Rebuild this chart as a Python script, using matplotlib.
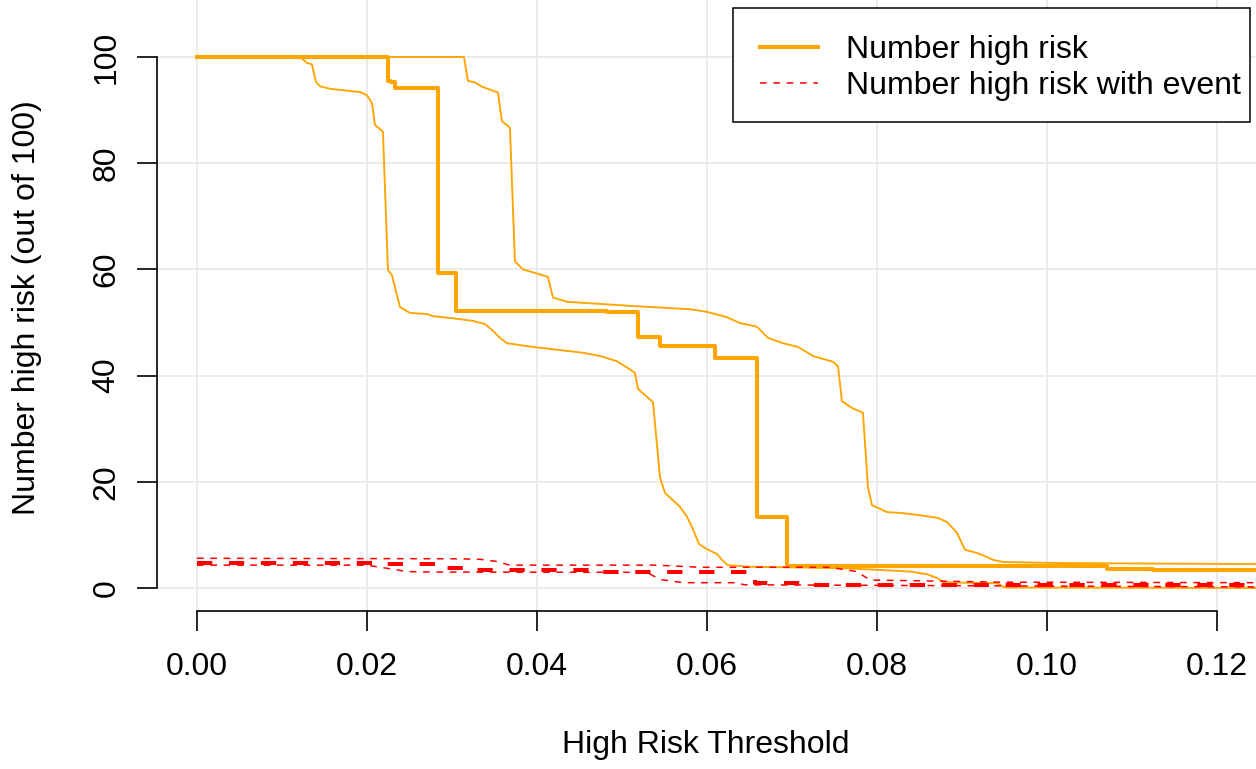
import numpy as np
import matplotlib
matplotlib.use("Agg")
import matplotlib.pyplot as plt
from matplotlib.lines import Line2D
from matplotlib.patches import Rectangle

plt.rcParams["font.family"] = ["Liberation Sans", "DejaVu Sans"]
plt.rcParams["lines.scale_dashes"] = False

# Median number high risk (step curve)
mid_thr = [0, 0.02247, 0.02282, 0.02329, 0.02388, 0.02835, 0.03047, 0.04824,
           0.05188, 0.05447, 0.06094, 0.06588, 0.06941, 0.10706, 0.11247, 0.125]
mid_n = [100, 95.5, 95.2, 94.1, 94.1, 59.3, 52.2, 51.9,
         47.3, 45.6, 43.3, 13.4, 4.2, 3.6, 3.4, 3.4]

# Upper bound, number high risk
hi_thr = [0, 0.03141, 0.03188, 0.03271, 0.03353, 0.03541, 0.03588, 0.03682,
          0.03741, 0.03835, 0.04129, 0.04188, 0.04353, 0.05129, 0.05800,
          0.06000, 0.06235, 0.06388, 0.06588, 0.06718, 0.06894, 0.07071,
          0.07247, 0.07482, 0.07541, 0.07588, 0.07706, 0.07835, 0.07894,
          0.07941, 0.08118, 0.08306, 0.08506, 0.08718, 0.08824, 0.08941,
          0.09035, 0.09176, 0.09271, 0.09365, 0.09482, 0.10153, 0.125]
hi_n = [100, 100, 95.5, 95.2, 94.4, 93.3, 87.9, 86.7,
        61.5, 60.0, 58.6, 54.7, 53.9, 53.1, 52.5,
        52.0, 51.0, 49.9, 49.2, 47.1, 46.1, 45.4,
        43.7, 42.6, 41.8, 35.2, 33.9, 33.0, 19.0,
        15.6, 14.3, 14.1, 13.7, 13.2, 12.4, 10.4,
        7.2, 6.6, 6.0, 5.3, 4.9, 4.7, 4.5]

# Lower bound, number high risk
lo_thr = [0, 0.01212, 0.01294, 0.01353, 0.01400, 0.01447, 0.01565, 0.01918,
          0.02000, 0.02059, 0.02094, 0.02153, 0.02188, 0.02247, 0.02294,
          0.02388, 0.02506, 0.02706, 0.02776, 0.03059, 0.03247, 0.03388,
          0.03471, 0.03565, 0.03647, 0.03953, 0.04541, 0.04741, 0.04941,
          0.05071, 0.05153, 0.05188, 0.05294, 0.05365, 0.05447, 0.05506,
          0.05682, 0.05765, 0.05824, 0.05906, 0.05988, 0.06118, 0.06176,
          0.06247, 0.06506, 0.06976, 0.07647, 0.08035, 0.08388, 0.08588,
          0.08706, 0.08776, 0.09035, 0.09412, 0.09506, 0.125]
lo_n = [100, 100, 98.9, 98.6, 95.3, 94.5, 94.0, 93.4,
        92.8, 91.3, 87.2, 86.4, 85.9, 59.9, 58.9,
        52.9, 51.8, 51.6, 51.2, 50.7, 50.3, 49.7,
        48.6, 47.1, 46.1, 45.4, 44.3, 43.7, 42.7,
        41.4, 40.5, 37.5, 36.0, 35.0, 20.9, 17.9,
        15.3, 13.4, 11.5, 8.3, 7.4, 6.4, 5.3,
        4.3, 4.0, 3.9, 3.7, 3.4, 3.1, 2.6,
        1.9, 1.1, 1.0, 0.9, 0.1, 0.0]

# Number high risk with event
ev_mid_thr = [0, 0.0209, 0.0294, 0.0327, 0.0474, 0.0656, 0.0709, 0.125]
ev_mid_n = [4.8, 4.5, 3.7, 3.4, 3.1, 1.0, 0.6, 0.6]

ev_hi_thr = [0, 0.0309, 0.0333, 0.0353, 0.0368, 0.0541, 0.0592, 0.0745,
             0.0776, 0.0792, 0.0874, 0.0945, 0.125]
ev_hi_n = [5.6, 5.5, 5.4, 5.0, 4.3, 4.3, 3.9, 3.9,
           3.1, 1.5, 1.3, 1.1, 1.0]

ev_lo_thr = [0, 0.0200, 0.0224, 0.0247, 0.0278, 0.0529, 0.0545, 0.0572,
             0.0631, 0.0645, 0.0945, 0.125]
ev_lo_n = [4.3, 4.3, 3.7, 3.1, 3.0, 2.95, 1.6, 1.0,
           1.0, 0.6, 0.4, 0.2]

xticks = [0.00, 0.02, 0.04, 0.06, 0.08, 0.10, 0.12]
yticks = [0, 20, 40, 60, 80, 100]

orange = "#FFA500"
red = "#FF0000"

W, H = 1256, 769
fig = plt.figure(figsize=(W / 100, H / 100), dpi=100)
ax = fig.add_axes([157 / W, (H - 611) / H, 1 - 157 / W, 611 / H])

ax.set_xlim(-0.0047, 0.12459)
ax.set_ylim(-4.33, 110.73)

# grid
for x in xticks:
    ax.axvline(x, color="#EBEBEB", lw=1.4, zorder=0)
for y in yticks:
    ax.axhline(y, color="#EBEBEB", lw=1.4, zorder=0)

# orange curves
ax.plot(hi_thr, hi_n, color=orange, lw=1.35, zorder=2)
ax.plot(lo_thr, lo_n, color=orange, lw=1.35, zorder=2)
ax.plot(mid_thr, mid_n, color=orange, lw=2.9, drawstyle="steps-post", zorder=2)

# red dashed curves
ax.plot(ev_hi_thr, ev_hi_n, color=red, lw=1.1, dashes=(4.8, 4.8), zorder=3)
ax.plot(ev_lo_thr, ev_lo_n, color=red, lw=1.1, dashes=(4.8, 4.8), zorder=3)
ax.plot(ev_mid_thr, ev_mid_n, color=red, lw=2.9, dashes=(11, 12),
        drawstyle="steps-post", zorder=3)

# legend box drawn by hand, entries by legend()
box = Rectangle((733 / W, 1 - 122 / H), (1250 - 733) / W, (122 - 8) / H,
                transform=fig.transFigure, facecolor="white", edgecolor="black",
                lw=1.1, zorder=4, clip_on=False)
ax.add_patch(box)
handles = [Line2D([], [], color=orange, lw=2.9),
           Line2D([], [], color=red, lw=1.1, dashes=(4.8, 4.8))]
leg = ax.legend(handles, ["Number high risk", "Number high risk with event"],
                loc="upper left", bbox_to_anchor=(760 / W, 1 - 35 / H),
                bbox_transform=fig.transFigure, borderaxespad=0, borderpad=0,
                fontsize=23, frameon=False, labelspacing=0.2,
                handlelength=1.8, handletextpad=0.88)
leg.set_zorder(5)

# axes styling (R-like detached axes)
for s in ["top", "right"]:
    ax.spines[s].set_visible(False)
ax.spines["left"].set_bounds(0, 100)
ax.spines["bottom"].set_bounds(0, 0.12)
ax.spines["left"].set_linewidth(1.2)
ax.spines["bottom"].set_linewidth(1.2)

ax.set_xticks(xticks)
ax.set_xticklabels([f"{x:.2f}" for x in xticks])
ax.set_yticks(yticks)
ax.set_yticklabels([str(y) for y in yticks])
ax.tick_params(axis="both", direction="out", length=14.4, width=1.2,
               labelsize=23, color="black")
ax.tick_params(axis="x", pad=15)
ax.tick_params(axis="y", pad=11, labelrotation=90)
for lab in ax.get_yticklabels():
    lab.set_va("center")

fig.text(706 / W, 1 - 745 / H, "High Risk Threshold", fontsize=23,
         ha="center", va="center")
fig.text(27 / W, 1 - 308 / H, "Number high risk (out of 100)", fontsize=23,
         ha="center", va="center", rotation=90)

fig.savefig("out.png", dpi=100)
